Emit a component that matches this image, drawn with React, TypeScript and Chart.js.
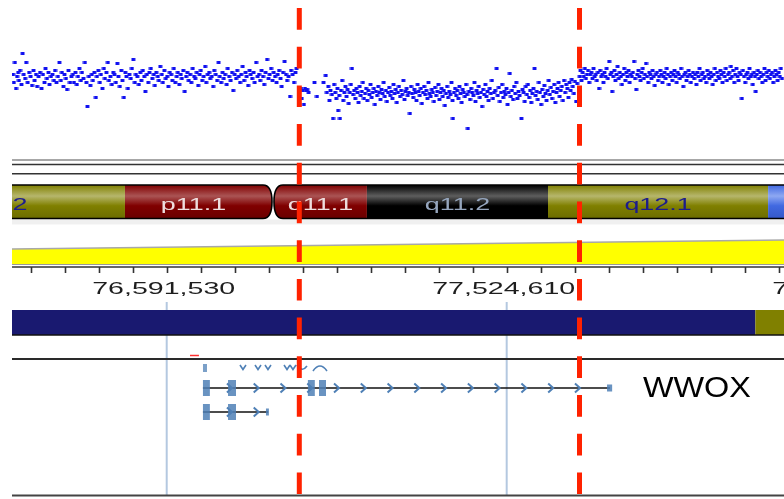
import React, { useEffect, useRef } from 'react';
import { Chart, registerables } from 'chart.js';
Chart.register(...registerables);

// ---------------- data ----------------
const viewStart = 76166972;
const viewEnd = 78285649;
const majorTicks = [76591530, 77524610, 78457690];
const minorPerMajor = 10;

const bandNames = ['p11.2', 'p11.1', 'q11.1', 'q11.2', 'q12.1', 'q12.2'];
const bandStarts = [75763000, 76477000, 76886000, 77141000, 77638000, 78242000];
const bandEnds = [76477000, 76880500, 77141000, 77638000, 78242000, 78700000];
const bandStains = ['gpos', 'acen', 'acen', 'gvar', 'gpos', 'gneg'];

const segStarts = [75900000, 78207000];
const segEnds = [78207000, 78500000];
const segKinds = ['loss', 'gain'];

const breakpoints = [76955450, 77724420];

// probe positions (Mb) and log2 ratios
const probesSeg1 = [
[76.170,0.12],[76.172,-0.2],[76.175,0.6],[76.178,-0.44],[76.181,0.04],[76.184,0.2],[76.186,-0.12],[76.189,0.28],[76.193,-0.28],[76.196,0.96],[76.199,0.12],[76.203,-0.04],[76.206,0.6],[76.210,-0.2],[76.214,0.2],[76.218,0.04],[76.222,-0.32],[76.226,0.28],[76.229,-0.12],[76.233,0.12],[76.236,-0.36],[76.240,0.04],[76.244,0.2],[76.248,-0.44],[76.252,0.12],[76.256,-0.2],[76.259,0.36],[76.263,-0.04],[76.267,0.2],[76.270,-0.28],[76.274,0.04],[76.278,0.12],[76.282,-0.12],[76.285,0.28],[76.289,-0.2],[76.293,0.04],[76.297,0.6],[76.301,-0.12],[76.304,0.2],[76.308,-0.36],[76.311,0.12],[76.315,-0.04],[76.318,-0.48],[76.322,0.28],[76.326,-0.2],[76.330,0.04],[76.334,0.12],[76.337,-0.2],[76.341,0.2],[76.345,-0.28],[76.348,0.04],[76.352,0.36],[76.356,-0.12],[76.359,0.2],[76.363,-0.04],[76.367,0.6],[76.371,-0.2],[76.374,-1.16],[76.378,0.04],[76.382,-0.32],[76.386,0.12],[76.389,-0.12],[76.393,0.2],[76.397,-0.8],[76.400,0.04],[76.404,0.28],[76.408,-0.2],[76.411,0.12],[76.415,-0.44],[76.419,0.36],[76.422,-0.04],[76.426,0.2],[76.430,0.6],[76.433,-0.12],[76.437,0.04],[76.441,-0.28],[76.445,0.2],[76.448,0.12],[76.452,-0.2],[76.456,0.56],[76.459,0.04],[76.463,-0.36],[76.467,0.28],[76.470,-0.12],[76.474,-0.8],[76.478,0.2],[76.481,0.04],[76.485,-0.44],[76.489,0.12],[76.493,-0.04],[76.496,0.36],[76.500,0.72],[76.504,-0.2],[76.507,0.12],[76.511,0.04],[76.515,-0.28],[76.519,0.2],[76.522,-0.12],[76.526,0.28],[76.530,0.04],[76.533,-0.56],[76.537,0.12],[76.541,-0.2],[76.544,0.2],[76.548,0.36],[76.552,-0.04],[76.556,0.12],[76.559,-0.32],[76.563,0.2],[76.567,0.04],[76.570,-0.12],[76.574,0.44],[76.578,0.12],[76.581,-0.2],[76.585,0.28],[76.589,-0.04],[76.593,0.04],[76.596,-0.36],[76.600,0.2],[76.604,0.12],[76.607,-0.12],[76.611,0.36],[76.615,-0.2],[76.619,0.04],[76.622,0.2],[76.626,-0.28],[76.630,0.12],[76.633,-0.04],[76.637,0.28],[76.641,-0.56],[76.645,0.04],[76.648,0.2],[76.652,-0.12],[76.656,0.12],[76.659,-0.2],[76.663,0.36],[76.667,0.04],[76.670,-0.04],[76.674,0.2],[76.678,-0.32],[76.682,0.12],[76.685,0.28],[76.689,-0.12],[76.693,0.04],[76.697,0.44],[76.700,-0.2],[76.704,0.12],[76.708,0.2],[76.711,-0.04],[76.715,0.04],[76.719,-0.36],[76.722,0.28],[76.726,0.12],[76.730,-0.12],[76.734,0.6],[76.737,0.04],[76.741,-0.2],[76.745,0.2],[76.748,-0.04],[76.752,0.12],[76.756,-0.28],[76.759,0.36],[76.763,0.04],[76.767,-0.12],[76.771,0.2],[76.774,-0.52],[76.778,0.12],[76.782,-0.04],[76.785,0.28],[76.789,0.04],[76.793,-0.2],[76.796,0.12],[76.800,0.44],[76.804,-0.12],[76.808,0.2],[76.811,0.04],[76.815,-0.32],[76.819,0.28],[76.822,0.12],[76.826,-0.04],[76.830,0.2],[76.833,-0.2],[76.837,0.6],[76.841,0.04],[76.845,0.12],[76.848,-0.12],[76.852,0.28],[76.856,0.04],[76.859,-0.28],[76.863,0.2],[76.867,0.72],[76.871,-0.04],[76.874,0.12],[76.878,0.36],[76.882,-0.12],[76.885,0.2],[76.889,0.04],[76.893,-0.2],[76.896,0.12],[76.900,0.28],[76.904,-0.04],[76.907,-0.36],[76.911,0.2],[76.915,0.64],[76.919,0.12],[76.922,-0.12],[76.926,0.04],[76.930,-0.76],[76.933,0.28],[76.937,0.12],[76.941,-0.2],[76.945,0.2],[76.948,0.36]
];
const probesSeg2 = [
[76.960,-0.44],[76.962,-0.84],[76.965,-0.52],[76.968,-1.08],[76.971,-0.44],[76.974,-0.52],[76.977,-0.48],[76.981,-0.6],[76.997,-0.2],[77.004,-0.76],[77.022,-0.2],[77.028,0.08],[77.031,-0.6],[77.035,-0.36],[77.038,-0.92],[77.041,-0.52],[77.045,-0.68],[77.048,-1.64],[77.051,-0.28],[77.054,-0.6],[77.057,-0.84],[77.060,-0.44],[77.062,-1.32],[77.065,-0.72],[77.067,-1.64],[77.070,-0.52],[77.073,-0.12],[77.076,-0.92],[77.079,-0.6],[77.082,-0.36],[77.085,-0.76],[77.088,-0.48],[77.091,-1.04],[77.094,-0.6],[77.097,-0.28],[77.100,0.36],[77.103,-0.68],[77.106,-0.52],[77.109,-0.84],[77.112,-0.44],[77.115,-0.6],[77.118,-1.0],[77.121,-0.36],[77.124,-0.72],[77.127,-0.56],[77.130,-0.2],[77.133,-0.84],[77.136,-0.64],[77.139,-0.44],[77.142,-0.92],[77.145,-0.52],[77.148,-0.68],[77.151,-0.28],[77.154,-0.8],[77.157,-0.6],[77.160,-0.44],[77.163,-1.08],[77.166,-0.56],[77.169,-0.72],[77.172,-0.36],[77.175,-0.6],[77.178,-0.88],[77.181,-0.48],[77.184,-0.64],[77.187,-0.2],[77.190,-0.76],[77.193,-0.52],[77.196,-0.96],[77.199,-0.6],[77.202,-0.4],[77.205,-0.72],[77.208,-0.56],[77.211,-0.84],[77.214,-0.28],[77.217,-0.64],[77.220,-0.48],[77.223,-1.0],[77.226,-0.6],[77.229,-0.36],[77.232,-0.76],[77.235,-0.52],[77.238,-0.68],[77.241,-0.12],[77.244,-0.88],[77.247,-0.56],[77.250,-0.44],[77.253,-0.72],[77.256,-0.6],[77.259,-1.44],[77.262,-0.36],[77.265,-0.64],[77.268,-0.8],[77.271,-0.48],[77.274,-0.6],[77.277,-0.92],[77.280,-0.28],[77.283,-0.56],[77.286,-0.72],[77.289,-0.44],[77.292,-1.04],[77.295,-0.6],[77.298,-0.36],[77.301,-0.68],[77.304,-0.52],[77.307,-0.84],[77.310,-0.2],[77.313,-0.64],[77.316,-0.76],[77.319,-0.48],[77.322,-0.6],[77.325,-0.96],[77.328,-0.4],[77.331,-0.72],[77.334,-0.56],[77.337,-0.28],[77.340,-0.88],[77.343,-0.6],[77.346,-0.44],[77.349,-0.76],[77.352,-0.52],[77.355,-1.12],[77.358,-0.64],[77.361,-0.36],[77.364,-0.8],[77.367,-0.56],[77.370,-0.68],[77.373,-0.2],[77.376,-0.92],[77.377,-1.64],[77.380,-0.6],[77.383,-0.44],[77.386,-0.72],[77.389,-0.52],[77.392,-0.84],[77.395,-0.36],[77.398,-0.64],[77.401,-1.0],[77.404,-0.48],[77.407,-0.6],[77.410,-0.76],[77.413,-0.28],[77.416,-0.68],[77.418,-2.04],[77.421,-0.56],[77.424,-0.88],[77.427,-0.44],[77.430,-0.6],[77.433,-0.72],[77.436,-0.2],[77.439,-0.96],[77.442,-0.52],[77.445,-0.64],[77.448,-0.36],[77.451,-0.8],[77.454,-0.6],[77.457,-1.16],[77.460,-0.48],[77.463,-0.68],[77.466,-0.28],[77.469,-0.76],[77.472,-0.56],[77.475,-0.92],[77.478,-0.44],[77.481,-0.64],[77.484,-0.12],[77.487,-0.84],[77.490,-0.6],[77.493,-0.52],[77.497,0.36],[77.500,-0.72],[77.503,-0.4],[77.506,-0.96],[77.509,-0.6],[77.512,-0.28],[77.515,-0.8],[77.518,-0.56],[77.521,-0.68],[77.524,-0.44],[77.527,-1.08],[77.530,-0.6],[77.533,0.16],[77.536,-0.76],[77.539,-0.52],[77.542,-0.88],[77.545,-0.36],[77.548,-0.64],[77.551,-0.2],[77.554,-0.84],[77.557,-0.56],[77.560,-0.72],[77.565,-1.64],[77.568,-0.48],[77.571,-0.6],[77.574,-0.96],[77.577,-0.36],[77.580,-0.68],[77.583,-0.28],[77.586,-0.8],[77.589,-0.52],[77.592,-1.0],[77.595,-0.64],[77.598,-0.44],[77.601,0.36],[77.604,-0.72],[77.607,-0.56],[77.610,-0.88],[77.613,-0.2],[77.616,-0.6],[77.619,-1.08],[77.622,-0.48],[77.625,-0.76],[77.628,-0.32],[77.631,-0.64],[77.634,-0.92],[77.637,-0.52],[77.640,-0.12],[77.643,-0.7],[77.646,-0.4],[77.649,-0.84],[77.652,-0.56],[77.655,-0.28],[77.658,-1.0],[77.661,-0.6],[77.664,-0.44],[77.667,-0.2],[77.670,-0.76],[77.673,-0.52],[77.676,-0.36],[77.679,-0.92],[77.682,-0.12],[77.685,-0.6],[77.688,-0.28],[77.691,-0.44],[77.694,-0.8],[77.697,-0.2],[77.700,-0.52],[77.703,-0.08],[77.706,-0.36],[77.709,-0.64],[77.712,-0.16],[77.715,-0.96],[77.718,-0.24]
];
const probesSeg3 = [
[77.725,0.04],[77.727,0.28],[77.730,-0.12],[77.733,0.2],[77.736,0.04],[77.739,0.36],[77.742,-0.04],[77.745,0.12],[77.748,0.28],[77.751,-0.2],[77.754,0.12],[77.757,0.2],[77.760,-0.04],[77.763,0.36],[77.766,0.04],[77.769,0.12],[77.772,-0.12],[77.775,0.2],[77.778,-0.44],[77.781,0.28],[77.784,0.04],[77.787,0.12],[77.790,-0.2],[77.793,0.2],[77.796,0.04],[77.799,0.36],[77.802,-0.04],[77.806,0.64],[77.809,0.12],[77.812,0.2],[77.814,-0.56],[77.817,0.04],[77.820,0.28],[77.823,-0.12],[77.826,0.12],[77.829,0.44],[77.832,-0.04],[77.835,0.2],[77.838,0.04],[77.841,-0.28],[77.844,0.12],[77.847,0.36],[77.850,-0.12],[77.853,0.2],[77.856,0.04],[77.859,0.28],[77.862,-0.2],[77.865,0.12],[77.868,0.04],[77.871,0.2],[77.874,0.64],[77.877,-0.04],[77.880,-0.48],[77.883,0.12],[77.886,0.28],[77.889,0.04],[77.892,-0.12],[77.895,0.2],[77.898,0.36],[77.901,-0.04],[77.904,0.12],[77.907,0.56],[77.910,0.04],[77.913,-0.2],[77.916,0.2],[77.919,0.12],[77.922,-0.04],[77.925,0.28],[77.928,0.04],[77.931,-0.32],[77.934,0.12],[77.937,0.2],[77.940,-0.12],[77.943,0.04],[77.946,0.28],[77.949,0.12],[77.952,-0.2],[77.955,0.04],[77.958,0.2],[77.961,-0.04],[77.964,0.36],[77.967,0.12],[77.970,-0.28],[77.973,0.04],[77.976,0.2],[77.979,-0.12],[77.982,0.12],[77.985,0.28],[77.988,0.04],[77.991,-0.2],[77.994,0.2],[77.997,0.12],[78.000,-0.04],[78.003,0.36],[78.006,0.04],[78.009,-0.36],[78.012,0.12],[78.015,0.2],[78.018,-0.12],[78.021,0.04],[78.024,0.28],[78.027,0.12],[78.030,-0.2],[78.033,0.04],[78.036,0.2],[78.039,-0.04],[78.042,0.12],[78.045,-0.28],[78.048,0.2],[78.051,0.04],[78.054,0.36],[78.057,-0.12],[78.060,0.12],[78.063,0.2],[78.066,-0.04],[78.069,0.04],[78.072,-0.2],[78.075,0.28],[78.078,0.12],[78.081,-0.04],[78.084,0.2],[78.087,0.04],[78.090,-0.28],[78.093,0.12],[78.096,0.36],[78.099,-0.12],[78.102,0.2],[78.105,0.04],[78.108,-0.04],[78.111,0.28],[78.114,0.12],[78.117,-0.2],[78.120,0.2],[78.123,0.04],[78.126,0.36],[78.129,-0.12],[78.132,0.12],[78.135,0.2],[78.138,-0.04],[78.140,0.44],[78.143,0.04],[78.146,0.28],[78.149,-0.2],[78.152,0.12],[78.155,0.36],[78.158,0.04],[78.161,-0.12],[78.164,0.2],[78.167,0.12],[78.170,-0.84],[78.173,0.28],[78.176,0.04],[78.179,-0.2],[78.182,0.12],[78.185,0.2],[78.188,-0.04],[78.191,0.36],[78.194,0.04],[78.197,0.12],[78.200,-0.28],[78.203,0.2],[78.206,0.04],[78.208,-0.56],[78.211,0.12],[78.214,0.28],[78.217,-0.04],[78.220,0.2],[78.223,0.04],[78.226,-0.2],[78.229,0.12],[78.232,0.36],[78.235,-0.12],[78.238,0.2],[78.241,0.04],[78.244,0.28],[78.247,-0.04],[78.250,0.12],[78.253,0.2],[78.256,-0.2],[78.259,0.04],[78.262,0.28],[78.265,0.12],[78.268,-0.12],[78.271,0.2],[78.274,0.04],[78.277,0.36],[78.280,-0.04]
];

const geneName = 'WWOX';
const txStarts = [76691000, 76691000];
const txEnds = [77808000, 76870000];
const txExonStarts = [[76691000, 76759800, 76979000, 77009500, 77800000], [76691000, 76759800, 76864000]];
const txExonEnds = [[76710000, 76781700, 76998000, 77028700, 77814000], [76710000, 76781700, 76872000]];
const featurePos = [76696600, 76800900, 76842100, 76869500, 76921700, 76938100, 76962800, 77012200];
const featureShapes = ['box', 'v', 'v', 'v', 'v', 'v', 'u', 'n'];
const markStarts = [76655500];
const markEnds = [76680000];

// ---------------- layout / style ----------------
const W = 784, H = 499, LEFT = 12;
const L = {
  hLines: [160, 164.5, 173.8],
  ideoTop: 185, ideoBot: 218.5,
  yelTopL: 249, yelTopR: 240, yelBot: 264,
  rulerY: 267, tickLen: 6, labelY: 294, labelDx: -3,
  segTop: 310, segBot: 335,
  guideTop: 302, guideBot: 495,
  geneTop: 359, geneBot: 495.5,
  txY: [388, 412], featY: 368, markY: 355.5,
  bpTop: 8, bpBot: 495,
};
const FONT = '"Liberation Sans", Arial, sans-serif';
const STRETCH = 1.68;
const STAIN: Record<string, { edge: string; mid: string; dark: string; text: string }> = {
  gpos: { edge: '#808000', mid: '#b6b66c', dark: '#6c6c00', text: '#1c1c8c' },
  acen: { edge: '#800000', mid: '#aa5454', dark: '#6a0000', text: '#eedede' },
  gvar: { edge: '#000000', mid: '#5e5e5e', dark: '#000000', text: '#96a6be' },
  gneg: { edge: '#4169e1', mid: '#8ea8f2', dark: '#3558c8', text: '#ffffff' },
};
const SEG_COLORS: Record<string, string> = { loss: '#191970', gain: '#808000' };
const GENE_BLUE = '#4f80b6';

function stretchedText(ctx: CanvasRenderingContext2D, text: string, cx: number, baseline: number, sx: number) {
  ctx.save();
  ctx.translate(cx, baseline);
  ctx.scale(sx, 1);
  ctx.textAlign = 'center';
  ctx.textBaseline = 'alphabetic';
  ctx.fillText(text, 0, 0);
  ctx.restore();
}

function hline(ctx: CanvasRenderingContext2D, x0: number, x1: number, y: number, color: string, w: number) {
  ctx.strokeStyle = color; ctx.lineWidth = w;
  ctx.beginPath(); ctx.moveTo(x0, y); ctx.lineTo(x1, y); ctx.stroke();
}

const tracksPlugin = {
  id: 'tracks',
  beforeDatasetsDraw(chart: any) {
    const ctx: CanvasRenderingContext2D = chart.ctx;
    const xs = chart.scales.x;
    const area = chart.chartArea;
    const X0 = area.left, X1 = area.right;
    const px = (bp: number) => xs.getPixelForValue(bp);
    ctx.save();
    ctx.beginPath();
    ctx.rect(X0, 0, X1 - X0, H);
    ctx.clip();

    // separator lines
    const hlColors = ['#8a8a8a', '#333333', '#333333'];
    L.hLines.forEach((y, i) => hline(ctx, X0, X1, y, hlColors[i], 1.5));

    // ideogram
    const top = L.ideoTop, bot = L.ideoBot, mid = (top + bot) / 2;
    const pIdx = bandStains.indexOf('acen');
    const qIdx = bandStains.lastIndexOf('acen');
    const cL = px(bandEnds[pIdx]), cR = px(bandStarts[qIdx]);
    const r = 9;
    const pArm = new Path2D();
    pArm.moveTo(X0 - 30, top); pArm.lineTo(cL - r, top);
    pArm.quadraticCurveTo(cL, top, cL, mid);
    pArm.quadraticCurveTo(cL, bot, cL - r, bot);
    pArm.lineTo(X0 - 30, bot); pArm.closePath();
    const qArm = new Path2D();
    qArm.moveTo(X1 + 30, top); qArm.lineTo(cR + r, top);
    qArm.quadraticCurveTo(cR, top, cR, mid);
    qArm.quadraticCurveTo(cR, bot, cR + r, bot);
    qArm.lineTo(X1 + 30, bot); qArm.closePath();
    ctx.fillStyle = 'rgba(0,0,0,0.06)';
    ctx.fillRect(X0, bot + 1, X1 - X0, 5);
    [pArm, qArm].forEach((arm, ai) => {
      ctx.save();
      ctx.clip(arm);
      bandNames.forEach((name, i) => {
        if ((name[0] === 'p') !== (ai === 0)) return;
        const s = STAIN[bandStains[i]];
        const g = ctx.createLinearGradient(0, top, 0, bot);
        g.addColorStop(0, s.edge);
        g.addColorStop(0.33, s.mid);
        g.addColorStop(0.62, s.edge);
        g.addColorStop(1, s.dark);
        ctx.fillStyle = g;
        const x0 = px(bandStarts[i]), x1 = px(bandEnds[i]);
        ctx.fillRect(x0, top, x1 - x0, bot - top);
      });
      ctx.restore();
      ctx.strokeStyle = '#000';
      ctx.lineWidth = 1.6;
      ctx.stroke(arm);
    });
    ctx.font = `16px ${FONT}`;
    bandNames.forEach((name, i) => {
      const x0 = px(bandStarts[i]), x1 = px(bandEnds[i]);
      ctx.fillStyle = STAIN[bandStains[i]].text;
      stretchedText(ctx, name, (x0 + x1) / 2 - (bandStains[i] === 'acen' && name[0] === 'p' ? 5 : 0), 210, STRETCH);
    });

    // yellow zoom wedge
    ctx.fillStyle = '#ffff00';
    ctx.beginPath();
    ctx.moveTo(X0, L.yelTopL); ctx.lineTo(X1, L.yelTopR); ctx.lineTo(X1, L.yelBot); ctx.lineTo(X0, L.yelBot); ctx.closePath();
    ctx.fill();
    ctx.strokeStyle = '#a8a8a8'; ctx.lineWidth = 1.5;
    ctx.beginPath(); ctx.moveTo(X0, L.yelTopL); ctx.lineTo(X1, L.yelTopR); ctx.stroke();
    hline(ctx, X0, X1, L.yelBot + 0.5, '#9a9a9a', 1);

    // ruler
    hline(ctx, X0, X1, L.rulerY, '#333', 1.5);
    const step = (majorTicks[1] - majorTicks[0]) / minorPerMajor;
    let t = majorTicks[0];
    while (t - step >= viewStart) t -= step;
    ctx.strokeStyle = '#333'; ctx.lineWidth = 1.6;
    for (; t <= viewEnd; t += step) {
      const x = Math.round(px(t)) + 0.5;
      ctx.beginPath(); ctx.moveTo(x, L.rulerY); ctx.lineTo(x, L.rulerY + L.tickLen); ctx.stroke();
    }
    ctx.fillStyle = '#1e1e1e';
    ctx.font = `17px ${FONT}`;
    majorTicks.forEach((m) => {
      stretchedText(ctx, m.toLocaleString('en-US'), px(m) + L.labelDx, L.labelY, STRETCH);
    });

    // guide lines at major ticks
    ctx.strokeStyle = '#b4c8e0'; ctx.lineWidth = 2;
    majorTicks.forEach((m) => {
      const x = px(m);
      ctx.beginPath(); ctx.moveTo(x, L.guideTop); ctx.lineTo(x, L.guideBot); ctx.stroke();
    });

    // segment track
    segStarts.forEach((s, i) => {
      ctx.fillStyle = SEG_COLORS[segKinds[i]];
      const x0 = Math.max(px(s), X0), x1 = Math.min(px(segEnds[i]), X1);
      ctx.fillRect(x0, L.segTop, x1 - x0, L.segBot - L.segTop);
    });
    hline(ctx, X0, X1, L.segBot, '#111', 1.5);

    // gene track frame
    hline(ctx, X0, X1, L.geneTop, '#2a2a2a', 2);
    hline(ctx, X0, X1, L.geneBot, '#444', 2);

    // red mark
    ctx.strokeStyle = '#ff3030'; ctx.lineWidth = 1.5;
    markStarts.forEach((s, i) => {
      ctx.beginPath(); ctx.moveTo(px(s), L.markY); ctx.lineTo(px(markEnds[i]), L.markY); ctx.stroke();
    });

    // small features
    ctx.strokeStyle = GENE_BLUE; ctx.fillStyle = GENE_BLUE; ctx.lineWidth = 1.6;
    featurePos.forEach((f, i) => {
      const x = px(f), y = L.featY;
      const sh = featureShapes[i];
      ctx.beginPath();
      if (sh === 'box') { ctx.globalAlpha = 0.75; ctx.fillRect(x - 2, y - 4, 4, 8); ctx.globalAlpha = 1; return; }
      if (sh === 'v') { ctx.moveTo(x - 3, y - 3); ctx.lineTo(x, y + 1.5); ctx.lineTo(x + 3, y - 3); }
      if (sh === 'u') { ctx.moveTo(x - 5, y - 3); ctx.quadraticCurveTo(x, y + 5, x + 5, y - 2); }
      if (sh === 'n') { ctx.moveTo(x - 7, y + 3); ctx.quadraticCurveTo(x, y - 7, x + 7, y + 3); }
      ctx.stroke();
    });

    // transcripts
    txStarts.forEach((s, ti) => {
      const y = L.txY[ti];
      const x0 = px(s), x1 = px(txEnds[ti]);
      hline(ctx, x0, x1, y, '#111', 1.5);
      ctx.strokeStyle = GENE_BLUE; ctx.lineWidth = 2;
      for (let x = x0 + 27; x < x1 - 10; x += 26.77) {
        ctx.beginPath(); ctx.moveTo(x - 3, y - 4.5); ctx.lineTo(x + 2, y); ctx.lineTo(x - 3, y + 4.5); ctx.stroke();
      }
      ctx.fillStyle = GENE_BLUE;
      txExonStarts[ti].forEach((es, ei) => {
        const ex0 = px(es), ex1 = px(txExonEnds[ti][ei]);
        const w = ex1 - ex0;
        const hh = w < 6 ? 3.5 : 8;
        ctx.globalAlpha = 0.85;
        ctx.fillRect(ex0, y - hh, w, hh * 2);
        ctx.globalAlpha = 1;
      });
    });
    ctx.fillStyle = '#000';
    ctx.font = `30px ${FONT}`;
    ctx.save();
    ctx.translate(px(txEnds[0]) + 33, 397);
    ctx.scale(1.08, 1);
    ctx.textAlign = 'left';
    ctx.fillText(geneName, 0, 0);
    ctx.restore();

    ctx.restore();
  },
};

export default function App() {
  const ref = useRef<HTMLCanvasElement>(null);
  useEffect(() => {
    const canvas = ref.current!;
    const dot = document.createElement('canvas');
    dot.width = 5; dot.height = 3;
    const dctx = dot.getContext('2d')!;
    dctx.fillStyle = 'rgba(22,22,242,0.45)';
    dctx.fillRect(0, 0, 5, 3);
    dctx.fillStyle = '#1010f0';
    dctx.fillRect(1, 0, 3, 3);
    const probes = [...probesSeg1, ...probesSeg2, ...probesSeg3].map(([mb, v]) => ({ x: mb * 1e6, y: v }));
    const datasets: any[] = [
      {
        type: 'scatter', label: 'log2 ratio', data: probes, xAxisID: 'x', yAxisID: 'yCN',
        pointStyle: dot, pointRadius: 2, pointHoverRadius: 2,
        backgroundColor: '#1616f2', borderColor: '#1616f2', order: 2,
      },
      ...breakpoints.map((bp) => ({
        type: 'line', label: 'breakpoint', data: [{ x: bp, y: L.bpTop }, { x: bp, y: L.bpBot }],
        xAxisID: 'x', yAxisID: 'yL', showLine: true, fill: false,
        borderColor: '#ff2200', borderWidth: 5, borderDash: [21.7, 17], borderCapStyle: 'butt',
        pointRadius: 0, order: 0,
      })),
    ];
    const chart = new Chart(canvas, {
      type: 'scatter',
      data: { datasets },
      options: {
        animation: false,
        responsive: false,
        devicePixelRatio: 1,
        events: [],
        layout: { autoPadding: false, padding: { left: LEFT, right: 0, top: 0, bottom: 0 } },
        plugins: { legend: { display: false }, tooltip: { enabled: false } },
        scales: {
          x: { type: 'linear', min: viewStart, max: viewEnd, display: false },
          yCN: { type: 'linear', axis: 'y', min: -16.88, max: 3.08, display: false },
          yL: { type: 'linear', axis: 'y', min: 0, max: H, reverse: true, display: false },
        },
      } as any,
      plugins: [tracksPlugin as any],
    });
    return () => chart.destroy();
  }, []);
  return (
    <div style={{ position: 'fixed', left: 0, top: 0, width: W, height: H, background: '#fff' }}>
      <canvas ref={ref} width={W} height={H} style={{ display: 'block' }} />
    </div>
  );
}
